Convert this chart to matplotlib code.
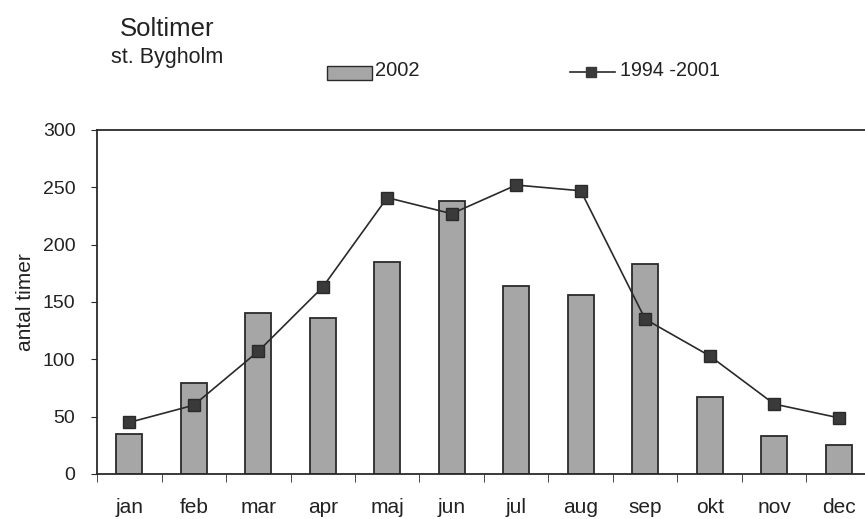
import matplotlib
matplotlib.use("Agg")
import matplotlib.pyplot as plt
import numpy as np
from matplotlib.patches import Rectangle
from matplotlib.lines import Line2D

months = ["jan", "feb", "mar", "apr", "maj", "jun", "jul", "aug", "sep", "okt", "nov", "dec"]
sun_2002 = [35, 79, 140, 136, 185, 238, 164, 156, 183, 67, 33, 25]
sun_1994_2001 = [45, 60, 107, 163, 241, 227, 252, 247, 135, 103, 61, 49]
yticks = [0, 50, 100, 150, 200, 250, 300]

plt.rcParams['font.family'] = ['Liberation Sans', 'DejaVu Sans']
txt = "#222222"
dark = "#2a2a2a"

fig = plt.figure(figsize=(8.65, 5.19), dpi=100)
ax = fig.add_axes([97/865, 1-474/519, 774/865, 344/519])

x = np.arange(len(months))
ax.bar(x, sun_2002, width=0.4, color="#a6a6a6", edgecolor=dark, linewidth=1.3, zorder=2)
ax.plot(x, sun_1994_2001, color=dark, linewidth=1.2, marker="s", markersize=8,
        markerfacecolor="#3a3a3a", markeredgecolor=dark, zorder=3)

ax.set_xlim(-0.5, 11.5)
ax.set_ylim(0, 300)
ax.set_yticks(yticks)
ax.set_xticks(x)
ax.set_xticklabels(months)
ax.set_xticks(np.arange(-0.5, 12, 1), minor=True)
ax.tick_params(axis='x', which='major', direction='in', length=4, labelsize=15, pad=17, color=dark, labelcolor=txt)
ax.tick_params(axis='x', which='minor', direction='out', length=6, color=dark)
ax.tick_params(axis='y', direction='out', length=4.5, labelsize=14, pad=11, color=dark, labelcolor=txt)
for s in ["left", "bottom", "top"]:
    ax.spines[s].set_color(dark)
    ax.spines[s].set_linewidth(1.3)
ax.spines["right"].set_visible(False)
ax.set_ylabel("antal timer", fontsize=15, labelpad=6, color=txt)

fig.text(167/865, 1-29/519, "Soltimer", fontsize=18.5, ha="center", va="center", color=txt)
fig.text(167/865, 1-58/519, "st. Bygholm", fontsize=15.5, ha="center", va="center", color=txt)

# legend
fig.patches.append(Rectangle((327/865, 1-80/519), 45/865, 14/519, transform=fig.transFigure,
                             facecolor="#a6a6a6", edgecolor=dark, linewidth=1.0))
fig.text(375/865, 1-71/519, "2002", fontsize=14.5, ha="left", va="center", color=txt)
fig.lines.append(Line2D([570/865, 615/865], [1-72/519, 1-72/519], transform=fig.transFigure,
                        color=dark, linewidth=1.2))
fig.lines.append(Line2D([591/865], [1-72/519], transform=fig.transFigure, marker="s", markersize=6.5,
                        color="#3a3a3a", linestyle="none"))
fig.text(620/865, 1-71/519, "1994 -2001", fontsize=14.2, ha="left", va="center", color=txt)

fig.savefig("out.png", dpi=100)
